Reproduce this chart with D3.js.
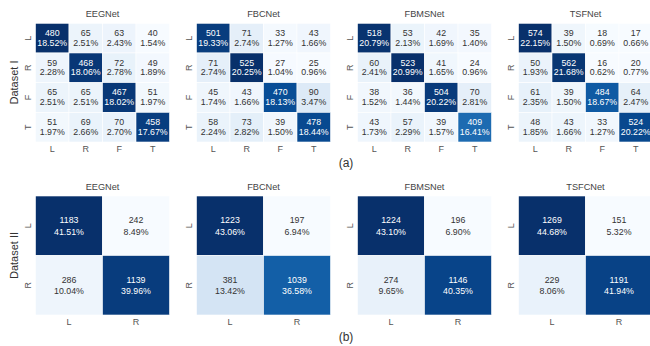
<!DOCTYPE html>
<html>
<head>
<meta charset="utf-8">
<script src="https://cdn.jsdelivr.net/npm/d3@7"></script>
<style>
  html, body { margin: 0; padding: 0; background: #fff; }
  svg { display: block; font-family: "Liberation Sans", Arial, Helvetica, sans-serif; }
</style>
</head>
<body>
<svg id="chart" width="650" height="346"></svg>
<script>
// Class labels
const classesI = ["L", "R", "F", "T"];
const classesII = ["L", "R"];

// Model names per row
const modelsI = ["EEGNet", "FBCNet", "FBMSNet", "TSFNet"];
const modelsII = ["EEGNet", "FBCNet", "FBMSNet", "TSFCNet"];

// Confusion matrices, Dataset I (rows = true class, cols = predicted)
const eegnetI  = [[480, 65, 63, 40], [59, 468, 72, 49], [65, 65, 467, 51], [51, 69, 70, 458]];
const fbcnetI  = [[501, 71, 33, 43], [71, 525, 27, 25], [45, 43, 470, 90], [58, 73, 39, 478]];
const fbmsnetI = [[518, 53, 42, 35], [60, 523, 41, 24], [38, 36, 504, 70], [43, 57, 39, 409]];
const tsfnetI  = [[574, 39, 18, 17], [50, 562, 16, 20], [61, 39, 484, 64], [48, 43, 33, 524]];

// Confusion matrices, Dataset II
const eegnetII  = [[1183, 242], [286, 1139]];
const fbcnetII  = [[1223, 197], [381, 1039]];
const fbmsnetII = [[1224, 196], [274, 1146]];
const tsfcnetII = [[1269, 151], [229, 1191]];

const rowLabels = ["Dataset I", "Dataset II"];
const captions = ["(a)", "(b)"];

// Blues colour ramp (ColorBrewer stops, linear between them)
const bluesStops = ["#f7fbff", "#deebf7", "#c6dbef", "#9ecae1", "#6baed6",
                    "#4292c6", "#2171b5", "#08519c", "#08306b"];

const svg = d3.select("#chart");

const panelLefts = [35.5, 196.5, 357.5, 518.5];
const panelW = 134;

function relLum(c) {
  const rgb = d3.rgb(c);
  const f = v => { v /= 255; return v <= 0.03928 ? v / 12.92 : Math.pow((v + 0.055) / 1.055, 2.4); };
  return 0.2126 * f(rgb.r) + 0.7152 * f(rgb.g) + 0.0722 * f(rgb.b);
}

function drawPanel(mat, labels, title, x0, y0, w, h, opts) {
  const g = svg.append("g").attr("transform", `translate(${x0},${y0})`);
  const x = d3.scaleBand().domain(labels).range([0, w]);
  const y = d3.scaleBand().domain(labels).range([0, h]);
  const flat = mat.flat();
  const total = d3.sum(flat);
  const [vmin, vmax] = d3.extent(flat);
  const t = d3.scaleLinear().domain([vmin, vmax]).range([0, 1]);
  const ramp = d3.scaleLinear()
    .domain(d3.range(bluesStops.length).map(i => i / (bluesStops.length - 1)))
    .range(bluesStops)
    .interpolate(d3.interpolateRgb);

  const cells = [];
  mat.forEach((row, i) => row.forEach((v, j) => cells.push({ r: labels[i], c: labels[j], v })));

  g.selectAll("rect.cell").data(cells).join("rect")
    .attr("class", "cell")
    .attr("x", d => x(d.c))
    .attr("y", d => y(d.r))
    .attr("width", x.bandwidth())
    .attr("height", y.bandwidth())
    .attr("fill", d => ramp(t(d.v)))
    .attr("stroke", "#fff")
    .attr("stroke-width", 0.6);

  const txt = g.selectAll("g.lbl").data(cells).join("g")
    .attr("class", "lbl")
    .attr("transform", d => `translate(${x(d.c) + x.bandwidth() / 2},${y(d.r) + y.bandwidth() / 2})`)
    .attr("fill", d => relLum(ramp(t(d.v))) > 0.408 ? "#333333" : "#ffffff")
    .attr("font-size", opts.fs)
    .attr("text-anchor", "middle")
    .attr("dominant-baseline", "central");
  txt.append("text").attr("y", opts.l1).text(d => d.v);
  txt.append("text").attr("y", opts.l2).text(d => (d.v / total * 100).toFixed(2) + "%");

  // Title
  g.append("text")
    .attr("x", w / 2).attr("y", opts.titleY)
    .attr("text-anchor", "middle").attr("dominant-baseline", "central")
    .attr("font-size", 9.2).attr("fill", "#444")
    .text(title);

  // Axes (no tick marks, no domain line)
  const xa = g.append("g").attr("transform", `translate(0,${h})`)
    .call(d3.axisBottom(x).tickSize(0).tickPadding(0))
    .attr("font-family", null).attr("font-size", null);
  xa.select(".domain").remove();
  xa.selectAll("text")
    .attr("y", opts.xTickY).attr("dy", null)
    .attr("dominant-baseline", "central")
    .attr("font-size", 9).attr("fill", "#555");

  const ya = g.append("g").call(d3.axisLeft(y).tickSize(0).tickPadding(0))
    .attr("font-family", null).attr("font-size", null);
  ya.select(".domain").remove();
  ya.selectAll("text")
    .attr("x", null).attr("dy", null)
    .attr("text-anchor", "middle")
    .attr("dominant-baseline", "central")
    .attr("transform", "translate(-8,0) rotate(-90)")
    .attr("font-size", 9).attr("fill", "#555");
}

const setsI = [eegnetI, fbcnetI, fbmsnetI, tsfnetI];
const setsII = [eegnetII, fbcnetII, fbmsnetII, tsfcnetII];

setsI.forEach((m, k) => drawPanel(m, classesI, modelsI[k], panelLefts[k], 23.3, panelW, 118.7,
  { fs: 8.8, l1: -5, l2: 4.5, titleY: -9, xTickY: 7.3 }));
setsII.forEach((m, k) => drawPanel(m, classesII, modelsII[k], panelLefts[k], 196, panelW, 119,
  { fs: 8.8, l1: -5.3, l2: 5.8, titleY: -8.8, xTickY: 7 }));

// Row labels
[[14, 82.5], [14, 255.5]].forEach(([cx, cy], i) => {
  svg.append("text")
    .attr("transform", `translate(${cx},${cy}) rotate(-90)`)
    .attr("text-anchor", "middle").attr("dominant-baseline", "central")
    .attr("font-size", 11).attr("fill", "#333")
    .text(rowLabels[i]);
});

// Sub-figure captions
[[346, 163], [346, 337]].forEach(([cx, cy], i) => {
  svg.append("text")
    .attr("x", cx).attr("y", cy)
    .attr("text-anchor", "middle").attr("dominant-baseline", "central")
    .attr("font-size", 12).attr("fill", "#333")
    .text(captions[i]);
});
</script>
</body>
</html>
